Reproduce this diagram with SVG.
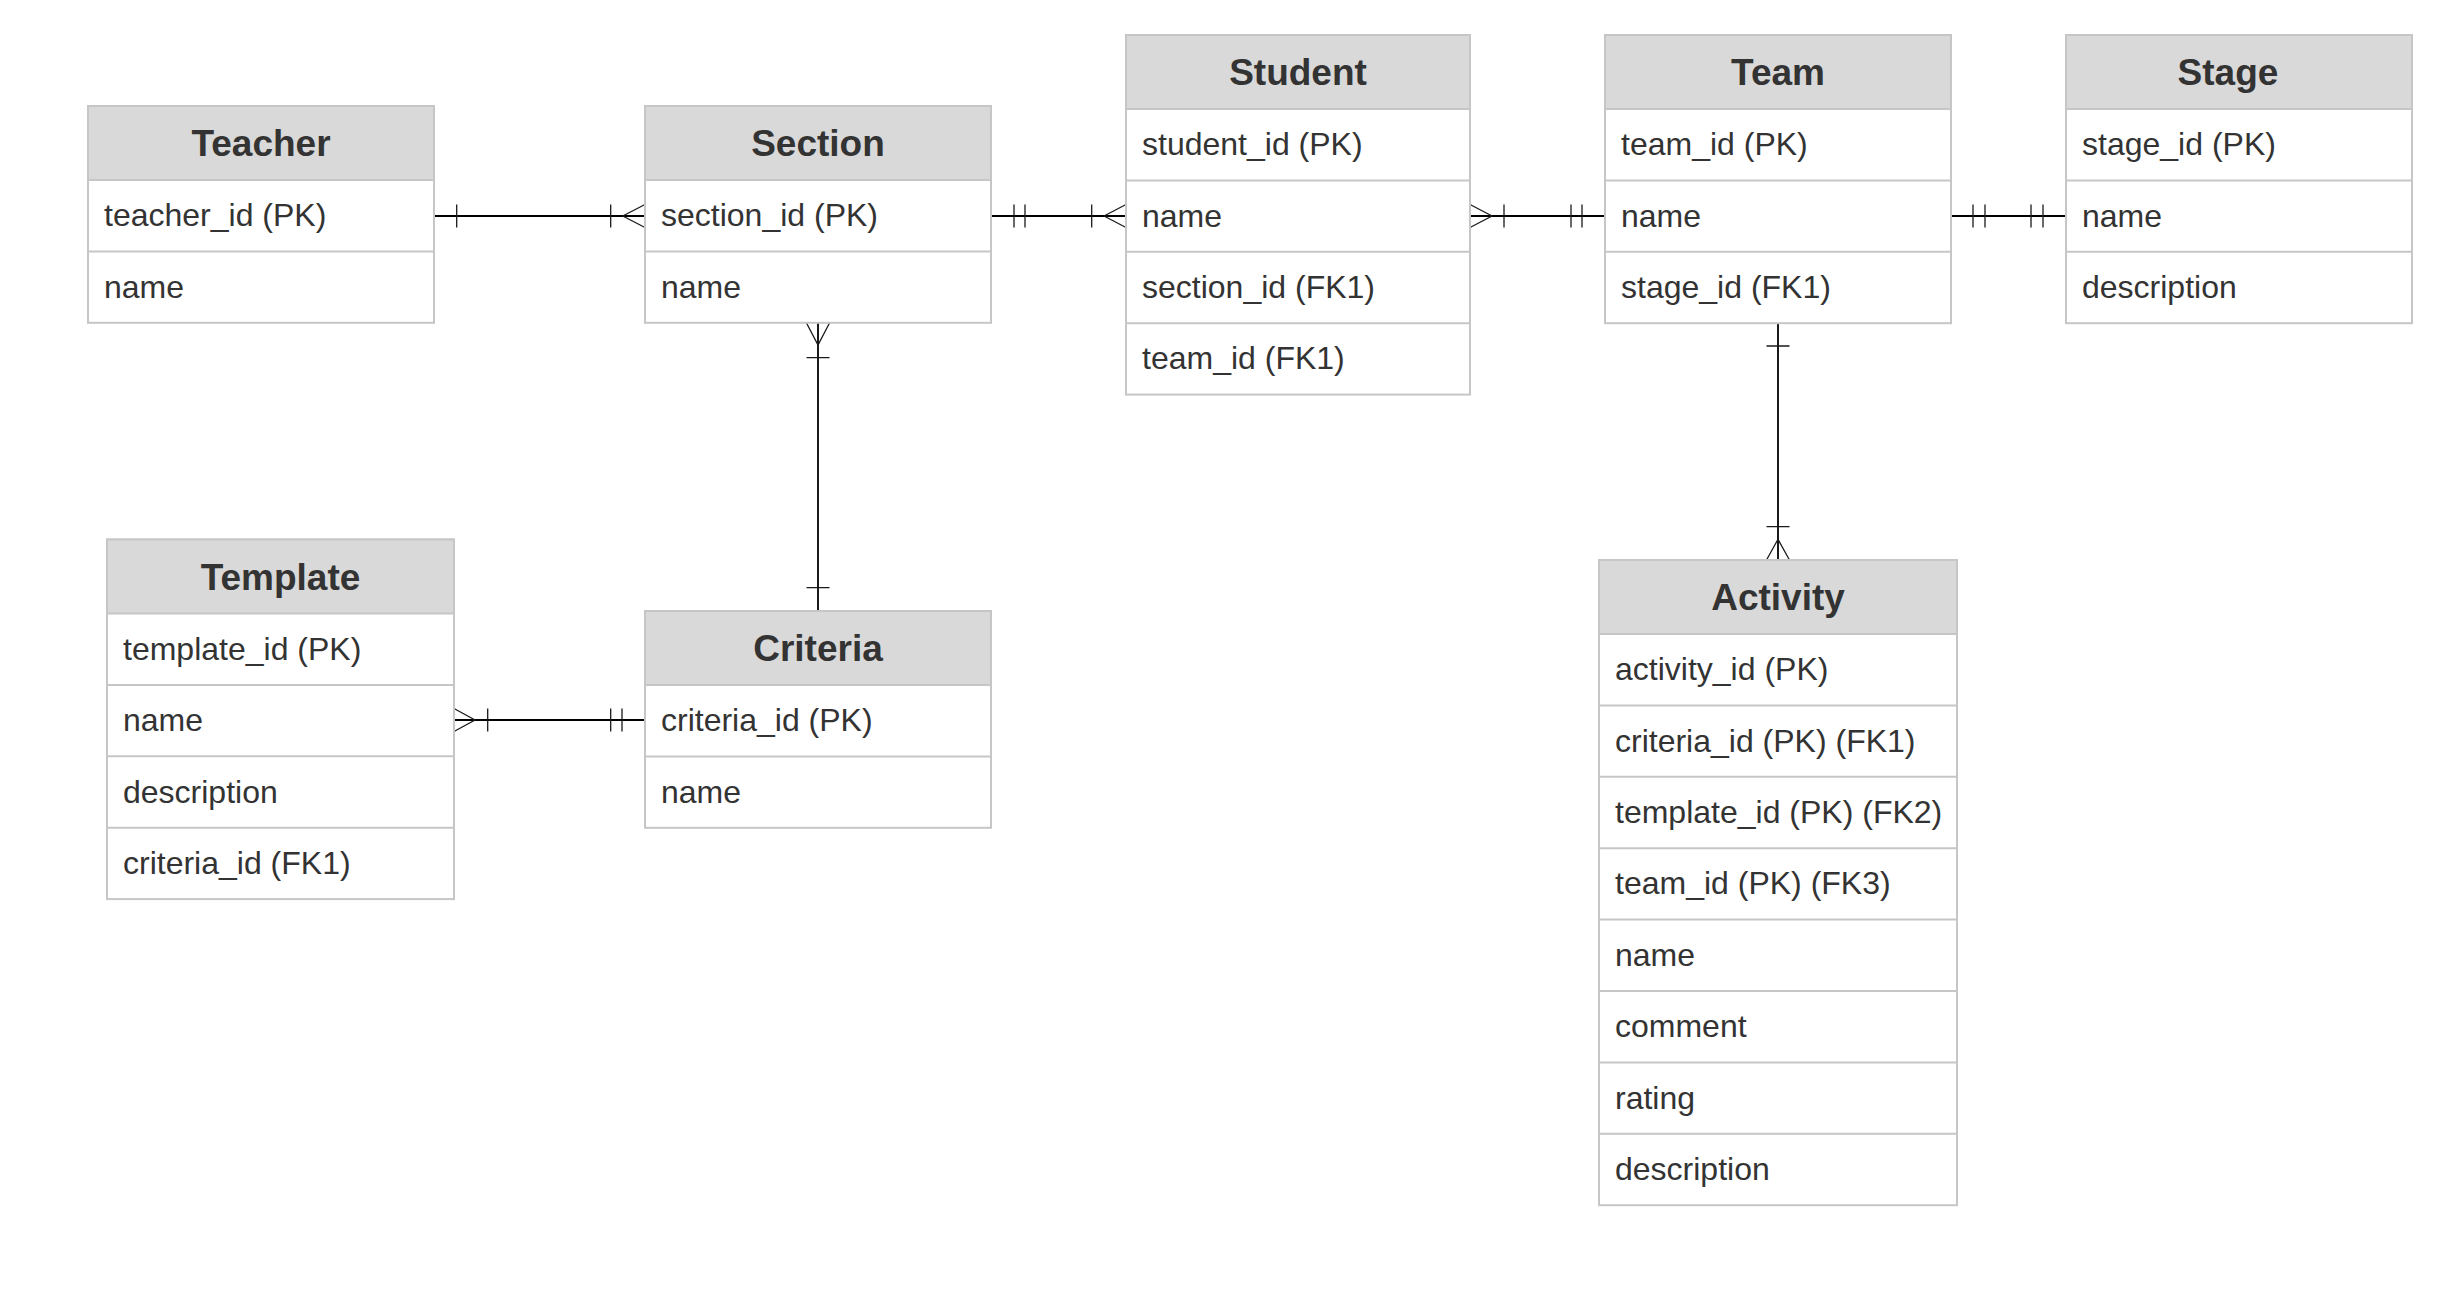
<svg xmlns="http://www.w3.org/2000/svg" width="2442" height="1316" viewBox="0 0 2442 1316">
<style>
.box{fill:#ffffff;stroke:#c6c6c6;stroke-width:2}
.hdr{fill:#d9d9d9;stroke:#c6c6c6;stroke-width:2}
.div{stroke:#c6c6c6;stroke-width:2}
.title{font-family:"Liberation Sans",Arial,sans-serif;font-size:37px;font-weight:bold;fill:#333333;text-anchor:middle}
.fld{font-family:"Liberation Sans",Arial,sans-serif;font-size:32px;fill:#333333}
.ln{fill:none;stroke:#000000;stroke-width:1.8}
.mk{fill:none;stroke:#1a1a1a;stroke-width:1.3}
</style>
<rect width="2442" height="1316" fill="#ffffff"/>

<g id="connectors">
  <!-- Teacher - Section -->
  <path class="ln" d="M434 216 H645"/>
  <path class="mk" d="M456.7 204.5 V227.5 M610.7 204.5 V227.5 M622.7 216 L645 204.5 M622.7 216 L645 227.5"/>
  <!-- Section - Student -->
  <path class="ln" d="M991 216 H1126"/>
  <path class="mk" d="M1014 204.5 V227.5 M1025 204.5 V227.5 M1091.7 204.5 V227.5 M1104 216 L1126 204.5 M1104 216 L1126 227.5"/>
  <!-- Student - Team -->
  <path class="ln" d="M1470 216 H1605"/>
  <path class="mk" d="M1470 204.5 L1492 216 L1470 227.5 M1504 204.5 V227.5 M1571 204.5 V227.5 M1582 204.5 V227.5"/>
  <!-- Team - Stage -->
  <path class="ln" d="M1951 216 H2066"/>
  <path class="mk" d="M1973 204.5 V227.5 M1985 204.5 V227.5 M2031 204.5 V227.5 M2043 204.5 V227.5"/>
  <!-- Section - Criteria -->
  <path class="ln" d="M818 323 V611"/>
  <path class="mk" d="M806.5 323 L818 345 L829.5 323 M806.5 357.7 H829.5 M806.5 587.7 H829.5"/>
  <!-- Template - Criteria -->
  <path class="ln" d="M454 720 H645"/>
  <path class="mk" d="M454 708.5 L475 720 L454 731.5 M487.7 708.5 V731.5 M610.7 708.5 V731.5 M622 708.5 V731.5"/>
  <!-- Team - Activity -->
  <path class="ln" d="M1778 323 V560"/>
  <path class="mk" d="M1766.5 346 H1789.5 M1766.5 526.7 H1789.5 M1766.5 560 L1778 539.3 L1789.5 560"/>
</g>

<g id="teacher">
  <rect class="box" x="88" y="106" width="346" height="216.8"/>
  <rect class="hdr" x="88" y="106" width="346" height="74"/>
  <line class="div" x1="88" y1="251.4" x2="434" y2="251.4"/>
  <text class="title" x="261" y="156">Teacher</text>
  <text class="fld" x="104" y="226.2">teacher_id (PK)</text>
  <text class="fld" x="104" y="297.6">name</text>
</g>

<g id="section">
  <rect class="box" x="645" y="106" width="346" height="216.8"/>
  <rect class="hdr" x="645" y="106" width="346" height="74"/>
  <line class="div" x1="645" y1="251.4" x2="991" y2="251.4"/>
  <text class="title" x="818" y="156">Section</text>
  <text class="fld" x="661" y="226.2">section_id (PK)</text>
  <text class="fld" x="661" y="297.6">name</text>
</g>

<g id="student">
  <rect class="box" x="1126" y="35" width="344" height="359.6"/>
  <rect class="hdr" x="1126" y="35" width="344" height="74"/>
  <line class="div" x1="1126" y1="180.4" x2="1470" y2="180.4"/>
  <line class="div" x1="1126" y1="251.8" x2="1470" y2="251.8"/>
  <line class="div" x1="1126" y1="323.2" x2="1470" y2="323.2"/>
  <text class="title" x="1298" y="85">Student</text>
  <text class="fld" x="1142" y="155.2">student_id (PK)</text>
  <text class="fld" x="1142" y="226.6">name</text>
  <text class="fld" x="1142" y="298">section_id (FK1)</text>
  <text class="fld" x="1142" y="369.4">team_id (FK1)</text>
</g>

<g id="team">
  <rect class="box" x="1605" y="35" width="346" height="288.2"/>
  <rect class="hdr" x="1605" y="35" width="346" height="74"/>
  <line class="div" x1="1605" y1="180.4" x2="1951" y2="180.4"/>
  <line class="div" x1="1605" y1="251.8" x2="1951" y2="251.8"/>
  <text class="title" x="1778" y="85">Team</text>
  <text class="fld" x="1621" y="155.2">team_id (PK)</text>
  <text class="fld" x="1621" y="226.6">name</text>
  <text class="fld" x="1621" y="298">stage_id (FK1)</text>
</g>

<g id="stage">
  <rect class="box" x="2066" y="35" width="346" height="288.2"/>
  <rect class="hdr" x="2066" y="35" width="346" height="74"/>
  <line class="div" x1="2066" y1="180.4" x2="2412" y2="180.4"/>
  <line class="div" x1="2066" y1="251.8" x2="2412" y2="251.8"/>
  <text class="title" x="2228" y="85">Stage</text>
  <text class="fld" x="2082" y="155.2">stage_id (PK)</text>
  <text class="fld" x="2082" y="226.6">name</text>
  <text class="fld" x="2082" y="298">description</text>
</g>

<g id="template">
  <rect class="box" x="107" y="539.5" width="347" height="359.6"/>
  <rect class="hdr" x="107" y="539.5" width="347" height="74"/>
  <line class="div" x1="107" y1="684.9" x2="454" y2="684.9"/>
  <line class="div" x1="107" y1="756.3" x2="454" y2="756.3"/>
  <line class="div" x1="107" y1="827.7" x2="454" y2="827.7"/>
  <text class="title" x="280.5" y="589.5">Template</text>
  <text class="fld" x="123" y="659.7">template_id (PK)</text>
  <text class="fld" x="123" y="731.1">name</text>
  <text class="fld" x="123" y="802.5">description</text>
  <text class="fld" x="123" y="873.9">criteria_id (FK1)</text>
</g>

<g id="criteria">
  <rect class="box" x="645" y="611" width="346" height="216.8"/>
  <rect class="hdr" x="645" y="611" width="346" height="74"/>
  <line class="div" x1="645" y1="756.4" x2="991" y2="756.4"/>
  <text class="title" x="818" y="661">Criteria</text>
  <text class="fld" x="661" y="731.2">criteria_id (PK)</text>
  <text class="fld" x="661" y="802.6">name</text>
</g>

<g id="activity">
  <rect class="box" x="1599" y="560" width="358" height="645.2"/>
  <rect class="hdr" x="1599" y="560" width="358" height="74"/>
  <line class="div" x1="1599" y1="705.4" x2="1957" y2="705.4"/>
  <line class="div" x1="1599" y1="776.8" x2="1957" y2="776.8"/>
  <line class="div" x1="1599" y1="848.2" x2="1957" y2="848.2"/>
  <line class="div" x1="1599" y1="919.6" x2="1957" y2="919.6"/>
  <line class="div" x1="1599" y1="991" x2="1957" y2="991"/>
  <line class="div" x1="1599" y1="1062.4" x2="1957" y2="1062.4"/>
  <line class="div" x1="1599" y1="1133.8" x2="1957" y2="1133.8"/>
  <text class="title" x="1778" y="610">Activity</text>
  <text class="fld" x="1615" y="680.2">activity_id (PK)</text>
  <text class="fld" x="1615" y="751.6">criteria_id (PK) (FK1)</text>
  <text class="fld" x="1615" y="823">template_id (PK) (FK2)</text>
  <text class="fld" x="1615" y="894.4">team_id (PK) (FK3)</text>
  <text class="fld" x="1615" y="965.8">name</text>
  <text class="fld" x="1615" y="1037.2">comment</text>
  <text class="fld" x="1615" y="1108.6">rating</text>
  <text class="fld" x="1615" y="1180">description</text>
</g>
</svg>
